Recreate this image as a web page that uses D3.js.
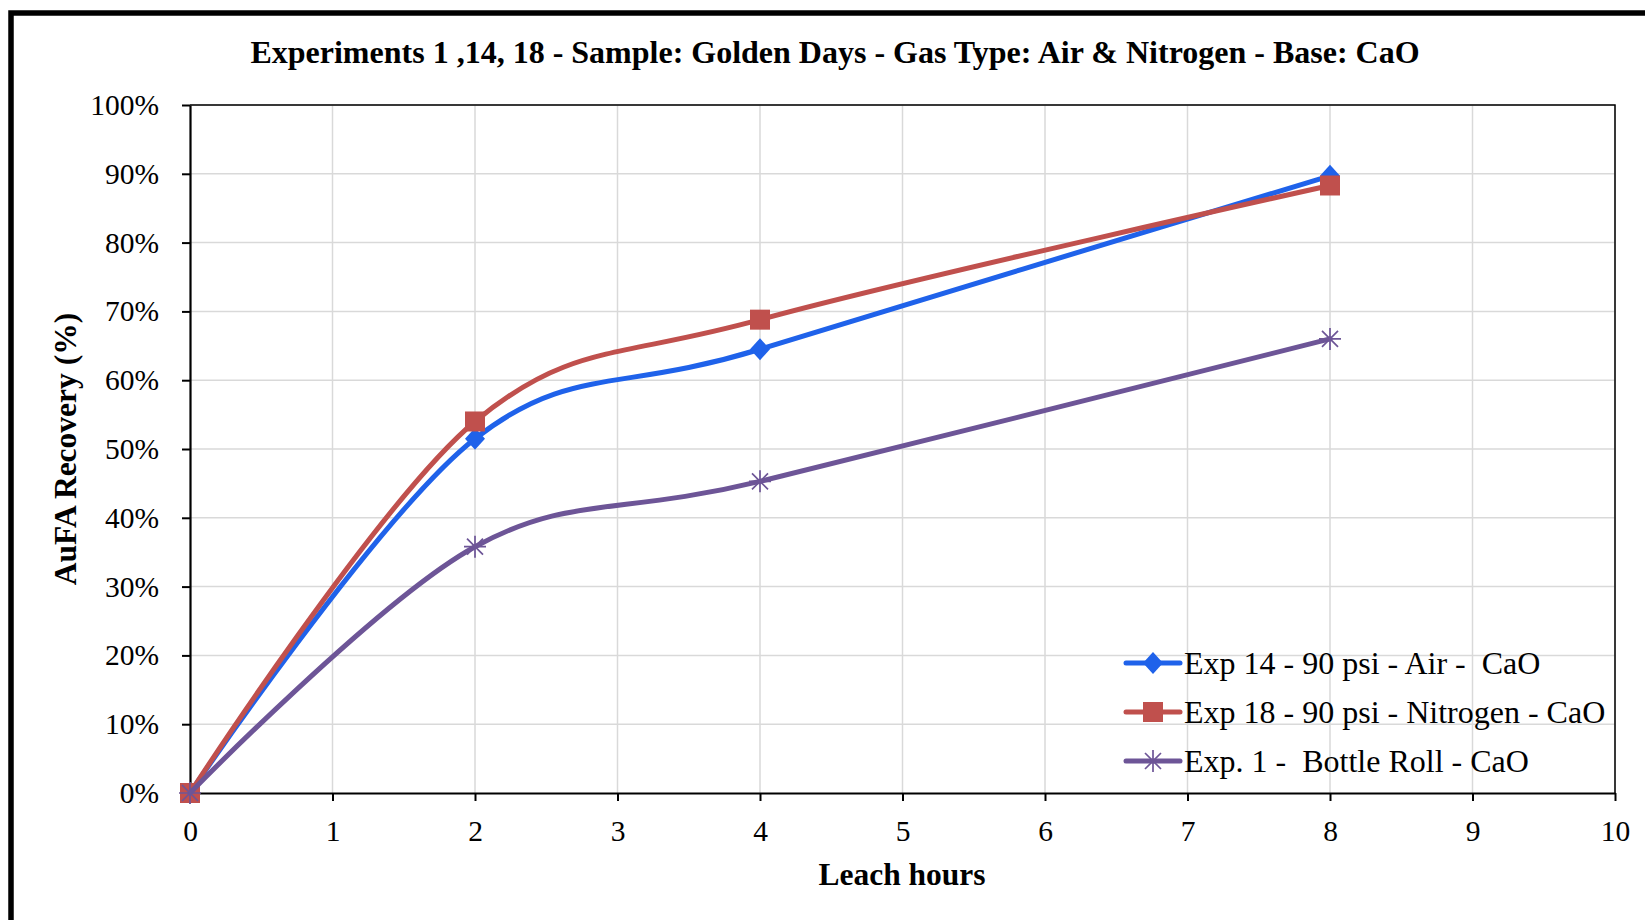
<!DOCTYPE html>
<html>
<head>
<meta charset="utf-8">
<script src="https://cdn.jsdelivr.net/npm/d3@7"></script>
<style>
  body { margin: 0; background: #fff; }
  text { font-family: "Liberation Serif", "Times New Roman", serif; fill: #000; }
</style>
</head>
<body>
<svg id="chart" width="1645" height="920"></svg>
<script>
// data
const hours = [0, 2, 4, 8];
const exp14 = [0, 51.5, 64.5, 89.7];
const exp18 = [0, 54.0, 68.8, 88.3];
const exp1 = [0, 35.8, 45.3, 66.0];
const seriesNames = [
    "Exp 14 - 90 psi - Air -  CaO",
    "Exp 18 - 90 psi - Nitrogen - CaO",
    "Exp. 1 -  Bottle Roll - CaO"
];
const seriesColors = ["#1f62ea", "#c0504d", "#6d5597"];
const markerTypes = ["diamond", "square", "star"];
const xTicks = [0, 1, 2, 3, 4, 5, 6, 7, 8, 9, 10];
const yTicks = [0, 10, 20, 30, 40, 50, 60, 70, 80, 90, 100];

const svg = d3.select("#chart");
const margin = { left: 190, top: 105, right: 1645 - 1615, bottom: 920 - 793 };
const width = 1645 - margin.left - margin.right;
const height = 920 - margin.top - margin.bottom;

// outer frame (only top and left edge show)
svg.append("rect")
    .attr("x", 11).attr("y", 13)
    .attr("width", 1700).attr("height", 1000)
    .attr("fill", "none")
    .attr("stroke", "#000")
    .attr("stroke-width", 5.5);

const xScale = d3.scaleLinear().domain([0, 10]).range([0, width]);
const yScale = d3.scaleLinear().domain([0, 100]).range([height, 0]);

const g = svg.append("g").attr("transform", `translate(${margin.left},${margin.top})`);

// grid
g.append("g").selectAll("line").data(xTicks.slice(1)).join("line")
    .attr("x1", d => xScale(d)).attr("x2", d => xScale(d))
    .attr("y1", 0).attr("y2", height)
    .attr("stroke", "#d9d9d9").attr("stroke-width", 1.5);
g.append("g").selectAll("line").data(yTicks.slice(1)).join("line")
    .attr("x1", 0).attr("x2", width)
    .attr("y1", d => yScale(d)).attr("y2", d => yScale(d))
    .attr("stroke", "#d9d9d9").attr("stroke-width", 1.5);

// top and right border of the plot
g.append("path")
    .attr("d", `M0,0H${width}V${height}`)
    .attr("fill", "none").attr("stroke", "#000").attr("stroke-width", 1.5);

// axes
const xAxis = g.append("g")
    .attr("transform", `translate(0,${height})`)
    .call(d3.axisBottom(xScale).tickValues(xTicks).tickSize(8).tickSizeOuter(0).tickPadding(12));
const yAxis = g.append("g")
    .call(d3.axisLeft(yScale).tickValues(yTicks).tickSize(8).tickSizeOuter(0).tickPadding(23)
        .tickFormat(d => d + "%"));
[xAxis, yAxis].forEach(ax => {
    ax.select(".domain").attr("stroke", "#000").attr("stroke-width", 2.2);
    ax.selectAll(".tick line").attr("stroke", "#000").attr("stroke-width", 2);
    ax.selectAll(".tick text")
        .style("font-family", "'Liberation Serif', 'Times New Roman', serif")
        .style("font-size", "29.5px")
        .attr("fill", "#000");
});
xAxis.selectAll(".tick text").attr("dy", "0.95em");

// lines (smoothed like the spreadsheet)
const allSeries = [exp14, exp18, exp1].map((vals, i) => ({
    name: seriesNames[i],
    color: seriesColors[i],
    marker: markerTypes[i],
    points: hours.map((h, j) => ({ x: h, y: vals[j] }))
}));

const line = d3.line()
    .x(d => xScale(d.x))
    .y(d => yScale(d.y))
    .curve(d3.curveCardinal.tension(0));

function drawMarker(sel, type, color) {
    if (type === "diamond") {
        sel.append("path").attr("d", "M0,-11L10,0L0,11L-10,0Z").attr("fill", color);
    } else if (type === "square") {
        sel.append("rect").attr("x", -10).attr("y", -10).attr("width", 20).attr("height", 20)
            .attr("fill", color);
    } else {
        sel.append("path")
            .attr("d", "M-11,0H11M0,-11V11M-8,-8L8,8M-8,8L8,-8")
            .attr("stroke", color).attr("stroke-width", 1.7).attr("fill", "none");
    }
}

allSeries.forEach(s => {
    const sg = g.append("g");
    sg.append("path")
        .datum(s.points)
        .attr("d", line)
        .attr("fill", "none")
        .attr("stroke", s.color)
        .attr("stroke-width", 5)
        .attr("stroke-linecap", "round");
    sg.selectAll(".mk").data(s.points).join("g")
        .attr("class", "mk")
        .attr("transform", d => `translate(${xScale(d.x)},${yScale(d.y)})`)
        .each(function () { drawMarker(d3.select(this), s.marker, s.color); });
});

// legend
const legend = svg.append("g").attr("transform", "translate(1126,663)");
allSeries.forEach((s, i) => {
    const row = legend.append("g").attr("transform", `translate(0,${i * 49})`);
    row.append("line")
        .attr("x1", 0).attr("x2", 54).attr("y1", 0).attr("y2", 0)
        .attr("stroke", s.color).attr("stroke-width", 5).attr("stroke-linecap", "round");
    const m = row.append("g").attr("transform", "translate(27,0)");
    drawMarker(m, s.marker, s.color);
    row.append("text")
        .attr("x", 58).attr("y", 11)
        .style("font-size", "32px")
        .style("white-space", "pre")
        .attr("xml:space", "preserve")
        .text(s.name);
});

// titles
svg.append("text")
    .attr("x", 835).attr("y", 63)
    .attr("text-anchor", "middle")
    .style("font-size", "32px").style("font-weight", "bold")
    .text("Experiments 1 ,14, 18 - Sample: Golden Days - Gas Type: Air & Nitrogen - Base: CaO");

svg.append("text")
    .attr("x", 902).attr("y", 885)
    .attr("text-anchor", "middle")
    .style("font-size", "31.5px").style("font-weight", "bold")
    .text("Leach hours");

svg.append("text")
    .attr("transform", "translate(76,449) rotate(-90)")
    .attr("text-anchor", "middle")
    .style("font-size", "31.5px").style("font-weight", "bold")
    .text("AuFA Recovery (%)");
</script>
</body>
</html>
